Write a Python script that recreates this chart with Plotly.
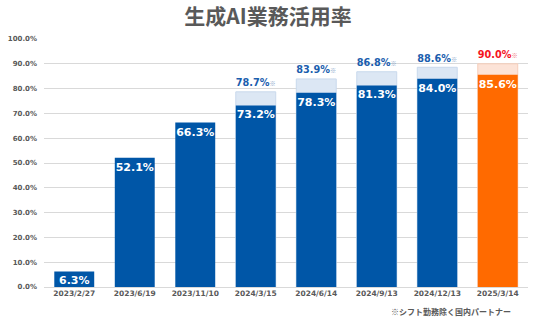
import plotly.graph_objects as go

dates = ["2023/2/27", "2023/6/19", "2023/11/10", "2024/3/15",
         "2024/6/14", "2024/9/13", "2024/12/13", "2025/3/14"]
base_vals = [6.3, 52.1, 66.3, 73.2, 78.3, 81.3, 84.0, 85.6]
total_vals = [None, None, None, 78.7, 83.9, 86.8, 88.6, 90.0]
y_ticks = [0, 10, 20, 30, 40, 50, 60, 70, 80, 90, 100]

dark_colors = ["#0056A7"] * 7 + ["#FF6A00"]
light_colors = ["#DCE7F4"] * 7 + ["#FCE3D7"]
light_lines = ["#C9D9EC"] * 7 + ["#F6CDBA"]
top_text_colors = ["#1B5EAE"] * 7 + ["#F5141E"]
mark_colors = ["#8EA9CC"] * 7 + ["#F07A80"]

top_text = []
for v, mc in zip(total_vals, mark_colors):
    if v is None:
        top_text.append("")
    else:
        top_text.append(
            f"{v:.1f}%<span style='font-size:7px;font-family:Noto Sans CJK JP;color:{mc}'>※</span>")

base_text = [f"{v:.1f}%" for v in base_vals]

VAL = "DejaVu Sans, Verdana, sans-serif"
LAT = "DejaVu Sans, Verdana, sans-serif"
JP = "Noto Sans CJK JP, sans-serif"

fig = go.Figure()
fig.add_trace(go.Bar(
    x=dates, y=total_vals,
    marker=dict(color=light_colors, line=dict(color=light_lines, width=1)),
    text=top_text, textposition="outside", cliponaxis=False, textangle=0,
    textfont=dict(family=VAL, size=11, color=top_text_colors, weight="bold"),
    hoverinfo="skip", showlegend=False,
))
fig.add_trace(go.Bar(
    x=dates, y=base_vals,
    marker=dict(color=dark_colors, line=dict(width=0)),
    text=base_text, textposition="inside", insidetextanchor="end",
    constraintext="none", textangle=0,
    textfont=dict(family=VAL, size=11, color="white", weight="bold"),
    showlegend=False,
))

fig.update_layout(
    width=536, height=324,
    barmode="overlay", bargap=0.34,
    margin=dict(l=39, r=8, t=39, b=37),
    paper_bgcolor="white", plot_bgcolor="white",
    title=dict(text="生成AI業務活用率", x=0.5, xref="container", xanchor="center",
               y=1 - 17 / 324, yref="container", yanchor="middle",
               font=dict(family=JP, size=21, color="#595959", weight="bold")),
    xaxis=dict(showgrid=False, showline=False, ticks="",
               tickfont=dict(family=LAT, size=7.5, color="#595959", weight="bold")),
    yaxis=dict(range=[0, 100], tickvals=y_ticks,
               ticktext=[f"{t:.1f}%" for t in y_ticks],
               showgrid=True, gridcolor="#D9D9D9", gridwidth=1,
               zeroline=True, zerolinecolor="#D9D9D9", zerolinewidth=1,
               ticks="", ticklabelstandoff=6,
               tickfont=dict(family=LAT, size=7, color="#595959", weight="bold")),
    annotations=[dict(text="※シフト勤務除く国内パートナー", xref="paper", yref="paper",
                      x=0.968, y=-0.1, xanchor="right", yanchor="middle",
                      showarrow=False,
                      font=dict(family=JP, size=8, color="#595959", weight="bold"))],
)

fig.write_html("out.html")
